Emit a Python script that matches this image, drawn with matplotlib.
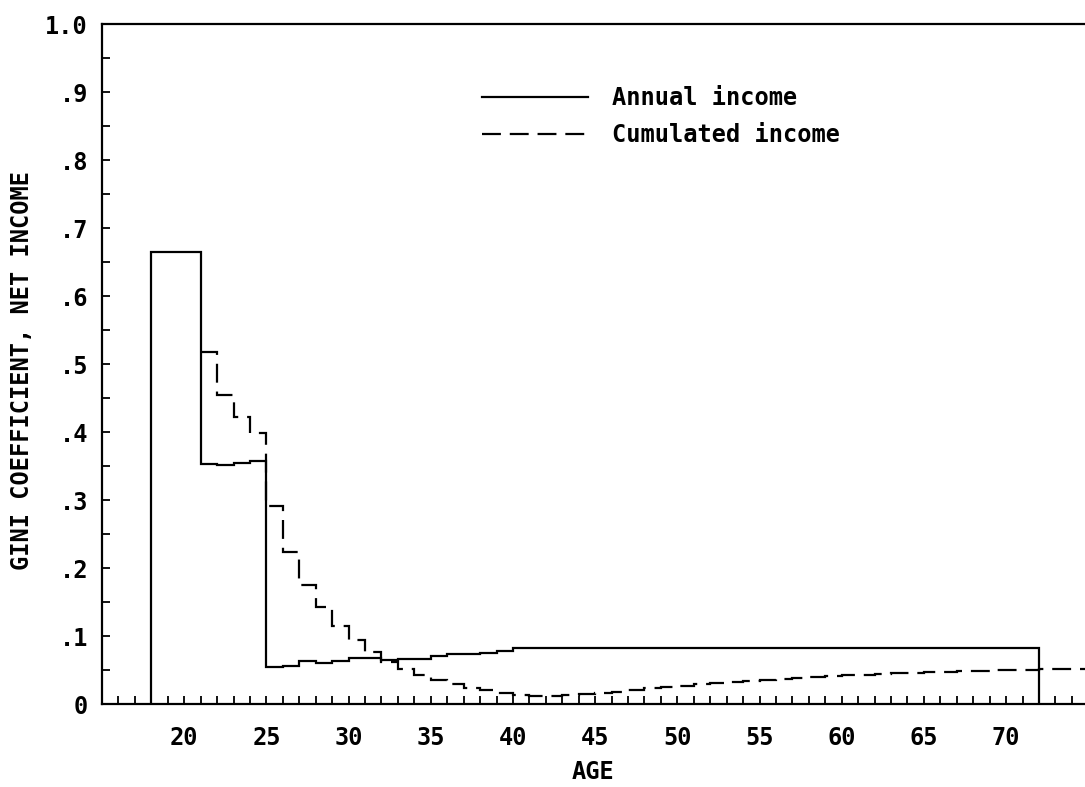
import numpy as np
import matplotlib
matplotlib.use("Agg")
import matplotlib.pyplot as plt
from matplotlib.ticker import MultipleLocator, FixedLocator

# ---- dane: współczynnik Giniego dochodu netto wg wieku ----
# dochód roczny: wartości dla lat 18..71 (przedział [wiek, wiek+1))
annual_ages = list(range(18, 72))
annual_gini = (
    [0.665, 0.665, 0.665]                                  # 18-20
    + [0.353, 0.352, 0.355, 0.358]                         # 21-24
    + [0.055, 0.056, 0.063, 0.060, 0.063, 0.067, 0.067,    # 25-31
       0.065, 0.066, 0.066, 0.071, 0.074, 0.074, 0.075,    # 32-38
       0.078]                                              # 39
    + [0.083] * 32                                         # 40-71
)

# dochód skumulowany: wartości dla lat 21..74
cum_ages = list(range(21, 75))
cum_gini = [
    0.517, 0.454, 0.422, 0.399, 0.291, 0.223, 0.175, 0.142, 0.114, 0.094,  # 21-30
    0.077, 0.062, 0.052, 0.043, 0.035, 0.030, 0.024, 0.020, 0.016, 0.013,  # 31-40
    0.012, 0.012, 0.013, 0.014, 0.016, 0.018, 0.020, 0.023, 0.025, 0.027,  # 41-50
    0.029, 0.031, 0.032, 0.034, 0.035, 0.037, 0.038, 0.039, 0.041, 0.042,  # 51-60
    0.043, 0.044, 0.045, 0.046, 0.047, 0.047, 0.048, 0.049, 0.050, 0.050,  # 61-70
    0.050, 0.051, 0.051, 0.051,                                            # 71-74
]

x_ticks = [20, 25, 30, 35, 40, 45, 50, 55, 60, 65, 70]
y_ticks = [0, .1, .2, .3, .4, .5, .6, .7, .8, .9, 1.0]
y_tick_labels = ["0", ".1", ".2", ".3", ".4", ".5", ".6", ".7", ".8", ".9", "1.0"]

FONT = "DejaVu Sans Mono"
FS = 17
LW = 1.6

plt.rcParams["font.family"] = FONT
plt.rcParams["font.weight"] = "bold"
plt.rcParams["axes.labelweight"] = "bold"

fig = plt.figure(figsize=(10.85, 7.87), dpi=100)
ax = fig.add_axes([102 / 1085, 1 - 704 / 787, 983 / 1085, 680 / 787])

edges_a = annual_ages + [annual_ages[-1] + 1]
edges_c = cum_ages + [cum_ages[-1] + 1]

ax.stairs(annual_gini, edges_a, baseline=0, color="black", lw=LW,
          label="Annual income")
ax.stairs(cum_gini, edges_c, baseline=None, color="black", lw=LW,
          linestyle=(0, (8.5, 4)), label="Cumulated income")

ax.set_xlim(15, 74.8)
ax.set_ylim(0, 1.0)

ax.xaxis.set_major_locator(FixedLocator(x_ticks))
ax.xaxis.set_minor_locator(MultipleLocator(1))
ax.set_xticklabels([str(t) for t in x_ticks])
ax.yaxis.set_major_locator(FixedLocator(y_ticks))
ax.yaxis.set_minor_locator(MultipleLocator(0.05))
ax.set_yticklabels(y_tick_labels)

ax.tick_params(which="both", direction="in", length=6, width=1.3,
               top=False, right=False, labelsize=FS)
ax.tick_params(axis="x", which="major", pad=16)
ax.tick_params(axis="y", which="major", pad=10)

for side in ("left", "bottom", "top"):
    ax.spines[side].set_linewidth(LW)
ax.spines["right"].set_visible(False)

ax.set_xlabel("AGE", fontsize=FS)
ax.xaxis.set_label_coords(0.5, -0.083)
ax.set_ylabel("GINI COEFFICIENT, NET INCOME", fontsize=FS, va="center")
ax.yaxis.set_label_coords(-0.081, 0.49)

ax.legend(loc="upper left", bbox_to_anchor=(482 / 1085, 1 - 86 / 787),
          bbox_transform=fig.transFigure, frameon=False, fontsize=FS,
          handlelength=4.5, handletextpad=1.0, labelspacing=0.55,
          borderpad=0, borderaxespad=0)

fig.savefig("out.png", dpi=100)
